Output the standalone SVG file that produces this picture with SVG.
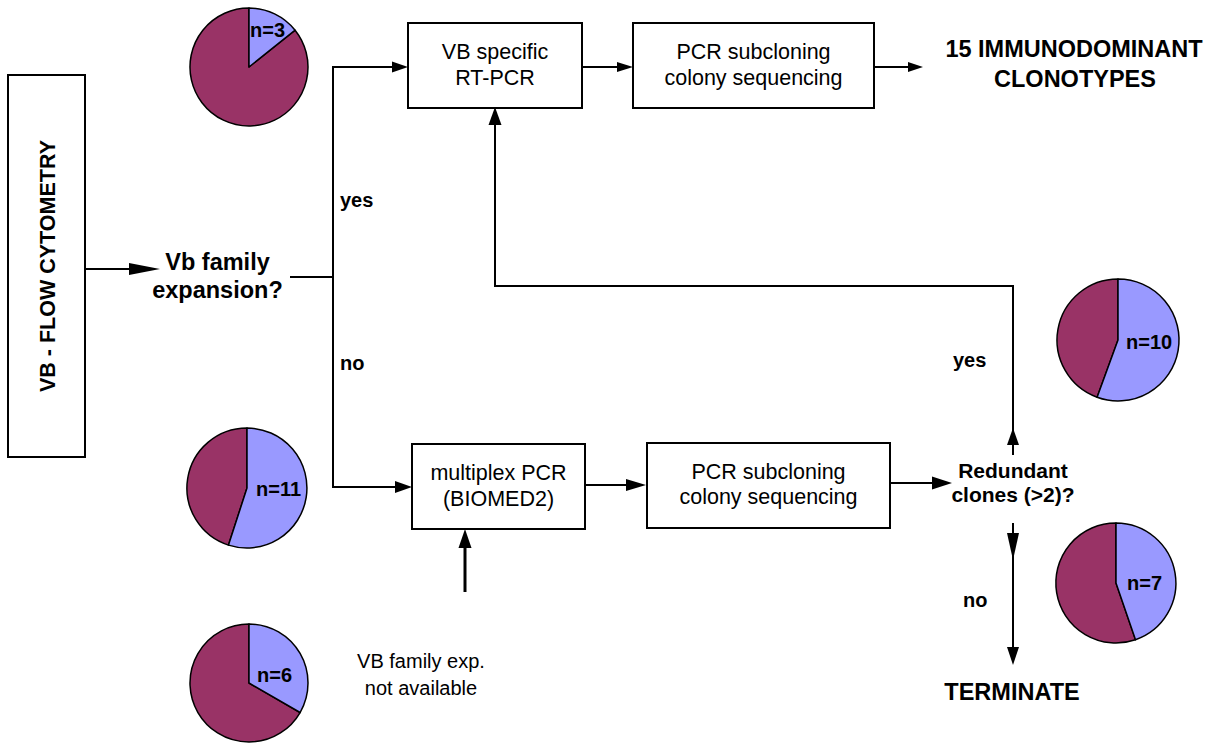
<svg xmlns="http://www.w3.org/2000/svg" width="1228" height="746" viewBox="0 0 1228 746">
<style>
.box{fill:#fff;stroke:#000;stroke-width:2}
.ln{fill:none;stroke:#000;stroke-width:2}
.ah{fill:#000;stroke:none}
.t{font-family:"Liberation Sans",Arial,sans-serif;font-size:21.5px;fill:#000;text-anchor:middle}
.b{font-family:"Liberation Sans",Arial,sans-serif;font-weight:bold;fill:#000}
.blue{fill:#9999FF;stroke:#000;stroke-width:1.5;stroke-linejoin:round}
.mar{fill:#993366;stroke:#000;stroke-width:1.5;stroke-linejoin:round}
.n{font-family:"Liberation Sans",Arial,sans-serif;font-weight:bold;font-size:20px;fill:#000}
</style>
<rect width="1228" height="746" fill="#fff"/>
<g id="connectors">
<line class="ln" x1="85" y1="269" x2="131" y2="269"/>
<polygon class="ah" points="129,263 160,269 129,275"/>
<line class="ln" x1="290" y1="277" x2="333" y2="277"/>
<polyline class="ln" points="395,67 333,67 333,487 397,487"/>
<polygon class="ah" points="392,61.5 408,67 392,72.5"/>
<polygon class="ah" points="395,481 412,487 395,493"/>
<line class="ln" x1="582" y1="67" x2="619" y2="67"/>
<polygon class="ah" points="617,62 633,67 617,72"/>
<line class="ln" x1="874" y1="67" x2="910" y2="67"/>
<polygon class="ah" points="908,62 923,67 908,72"/>
<line class="ln" x1="585" y1="485" x2="628" y2="485"/>
<polygon class="ah" points="626,479 646,485 626,491"/>
<line class="ln" x1="890" y1="483" x2="934" y2="483"/>
<polygon class="ah" points="932,476.5 952,483 932,489.5"/>
<polyline class="ln" points="1013,455 1013,286 495,286 495,123"/>
<polygon class="ah" points="1007,445 1013,428 1019,445"/>
<polygon class="ah" points="488.5,125 495,107 501.5,125"/>
<line class="ln" x1="1013" y1="523" x2="1013" y2="649"/>
<polygon class="ah" points="1007,533 1013,560 1019,533"/>
<polygon class="ah" points="1007,647 1013,665 1019,647"/>
<line class="ln" style="stroke-width:3" x1="465" y1="592" x2="465" y2="546"/>
<polygon class="ah" points="458.5,548 465,529 471.5,548"/>
</g>
<g id="flow-cytometry">
<rect class="box" x="8" y="75" width="77" height="382"/>
<text class="b" font-size="21.5" text-anchor="middle" transform="translate(55,266) rotate(-90)">VB - FLOW CYTOMETRY</text>
</g>
<g id="vb-expansion">
<text class="b" font-size="23.5" text-anchor="middle" x="217.5" y="270">Vb family</text>
<text class="b" font-size="23.5" text-anchor="middle" x="217.5" y="298">expansion?</text>
</g>
<g id="label-yes-1"><text class="b" font-size="20" x="340" y="207">yes</text></g>
<g id="label-no-1"><text class="b" font-size="20" x="340" y="370">no</text></g>
<g id="vb-rtpcr">
<rect class="box" x="408" y="23" width="174" height="85"/>
<text class="t" x="495" y="59">VB specific</text>
<text class="t" x="495" y="85">RT-PCR</text>
</g>
<g id="pcr-subcloning-1">
<rect class="box" x="633" y="23" width="241" height="85"/>
<text class="t" x="753.5" y="59">PCR subcloning</text>
<text class="t" x="753.5" y="85">colony sequencing</text>
</g>
<g id="clonotypes">
<text class="b" font-size="23.5" text-anchor="middle" x="1074" y="57">15 IMMUNODOMINANT</text>
<text class="b" font-size="23.5" text-anchor="middle" x="1075" y="87">CLONOTYPES</text>
</g>
<g id="multiplex-pcr">
<rect class="box" x="412" y="444" width="173" height="85"/>
<text class="t" x="498.5" y="480">multiplex PCR</text>
<text class="t" x="498.5" y="506">(BIOMED2)</text>
</g>
<g id="pcr-subcloning-2">
<rect class="box" x="647" y="443" width="243" height="85"/>
<text class="t" x="768.5" y="479">PCR subcloning</text>
<text class="t" x="768.5" y="504">colony sequencing</text>
</g>
<g id="redundant">
<text class="b" font-size="21" text-anchor="middle" x="1013" y="478">Redundant</text>
<text class="b" font-size="21" text-anchor="middle" x="1013" y="502">clones (&gt;2)?</text>
</g>
<g id="label-yes-2"><text class="b" font-size="20" x="953" y="367">yes</text></g>
<g id="label-no-2"><text class="b" font-size="20" x="963" y="607">no</text></g>
<g id="terminate"><text class="b" font-size="23.5" text-anchor="middle" x="1012" y="700">TERMINATE</text></g>
<g id="not-available">
<text class="t" style="font-size:20px" x="421" y="668">VB family exp.</text>
<text class="t" style="font-size:20px" x="421" y="695">not available</text>
</g>
<g id="pie-n3">
<path class="mar" d="M249,67 L295.1,30.2 A59,59 0 1 1 249,8 Z"/>
<path class="blue" d="M249,67 L249,8 A59,59 0 0 1 295.1,30.2 Z"/>
<text class="n" x="250" y="37">n=3</text>
</g>
<g id="pie-n11">
<path class="mar" d="M247,488 L228.5,545.1 A60,60 0 0 1 247,428 Z"/>
<path class="blue" d="M247,488 L247,428 A60,60 0 1 1 228.5,545.1 Z"/>
<text class="n" x="256" y="496">n=11</text>
</g>
<g id="pie-n6">
<path class="mar" d="M249,683 L300.1,712.5 A59,59 0 1 1 249,624 Z"/>
<path class="blue" d="M249,683 L249,624 A59,59 0 0 1 300.1,712.5 Z"/>
<text class="n" x="257" y="682">n=6</text>
</g>
<g id="pie-n10">
<path class="mar" d="M1118,340 L1097.1,397.3 A61,61 0 0 1 1118,279 Z"/>
<path class="blue" d="M1118,340 L1118,279 A61,61 0 1 1 1097.1,397.3 Z"/>
<text class="n" x="1126" y="349">n=10</text>
</g>
<g id="pie-n7">
<path class="mar" d="M1116,583 L1135.5,639.7 A60,60 0 1 1 1116,523 Z"/>
<path class="blue" d="M1116,583 L1116,523 A60,60 0 0 1 1135.5,639.7 Z"/>
<text class="n" x="1127" y="590">n=7</text>
</g>
</svg>
